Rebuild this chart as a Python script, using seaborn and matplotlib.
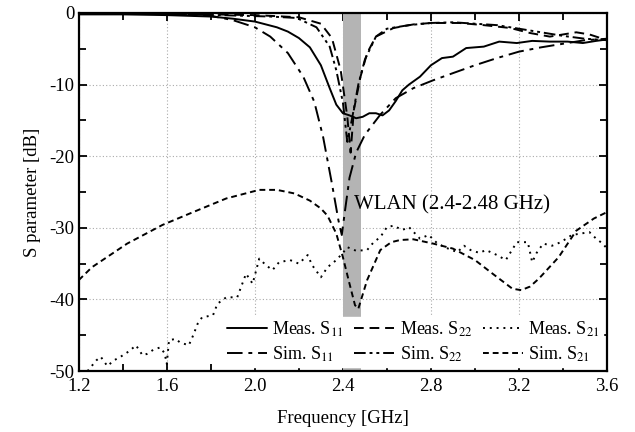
import numpy as np
import pandas as pd
import matplotlib
matplotlib.use("Agg")
import matplotlib.pyplot as plt
import seaborn as sns
from matplotlib.ticker import MultipleLocator

meas_s11_f = [1.2, 1.4, 1.6, 1.8, 1.9, 2.0, 2.1, 2.15, 2.2, 2.25, 2.3, 2.34, 2.37, 2.4, 2.43, 2.46,
              2.49, 2.52, 2.55, 2.58, 2.61, 2.64, 2.67, 2.7, 2.75, 2.8, 2.85, 2.9, 2.96, 3.04, 3.11,
              3.19, 3.26, 3.34, 3.42, 3.49, 3.55, 3.6]
meas_s11_db = [-0.2, -0.2, -0.3, -0.5, -0.8, -1.2, -2.0, -2.6, -3.5, -4.8, -7.3, -10.5, -12.8, -14.0,
               -14.3, -14.7, -14.5, -14.0, -14.0, -14.3, -13.6, -12.3, -10.8, -10.0, -8.9, -7.3, -6.3,
               -6.1, -4.9, -4.7, -4.0, -4.2, -3.9, -4.0, -4.0, -4.2, -3.9, -3.7]

sim_s11_f = [1.2, 1.5, 1.8, 1.9, 2.0, 2.07, 2.15, 2.22, 2.27, 2.31, 2.35, 2.38, 2.395, 2.41, 2.43,
             2.46, 2.5, 2.57, 2.64, 2.72, 2.81, 2.9, 3.0, 3.1, 3.2, 3.3, 3.4, 3.5, 3.6]
sim_s11_db = [0.0, -0.1, -0.4, -1.0, -2.0, -3.3, -5.6, -8.9, -12.4, -17.3, -23.8, -29.0, -31.0, -27.5,
              -23.0, -19.5, -17.0, -14.2, -11.9, -10.5, -9.4, -8.4, -7.3, -6.3, -5.4, -4.8, -4.3,
              -3.8, -3.6]

meas_s22_f = [1.2, 1.5, 1.8, 2.0, 2.2, 2.3, 2.35, 2.39, 2.42, 2.435, 2.45, 2.48, 2.51, 2.55, 2.63,
              2.72, 2.8, 2.93, 3.04, 3.16, 3.25, 3.34, 3.4, 3.46, 3.52, 3.6]
meas_s22_db = [-0.1, -0.1, -0.2, -0.3, -0.6, -1.5, -3.5, -8.0, -14.5, -19.5, -13.5, -8.9, -5.6, -3.3,
               -2.1, -1.6, -1.4, -1.4, -1.7, -2.1, -2.8, -3.3, -3.0, -2.7, -3.0, -3.8]

sim_s22_f = [1.2, 1.5, 1.84, 2.07, 2.19, 2.28, 2.34, 2.37, 2.4, 2.42, 2.44, 2.47, 2.5, 2.55, 2.6,
             2.7, 2.8, 2.9, 3.0, 3.1, 3.2, 3.3, 3.4, 3.5, 3.6]
sim_s22_db = [0.0, -0.1, -0.3, -0.5, -0.7, -2.0, -4.7, -8.0, -12.5, -18.0, -15.0, -10.0, -6.5, -3.3,
              -2.2, -1.7, -1.4, -1.3, -1.5, -1.7, -2.2, -2.7, -3.2, -3.6, -3.8]

meas_s21_f = [1.24, 1.28, 1.30, 1.33, 1.36, 1.39, 1.43, 1.46, 1.49, 1.51, 1.54, 1.57, 1.59, 1.60,
              1.61, 1.64, 1.66, 1.7, 1.72, 1.74, 1.76, 1.81, 1.83, 1.87, 1.92, 1.96, 1.99, 2.02,
              2.05, 2.08, 2.11, 2.16, 2.2, 2.24, 2.26, 2.3, 2.33, 2.37, 2.40, 2.42, 2.46, 2.51,
              2.54, 2.57, 2.60, 2.63, 2.67, 2.70, 2.75, 2.79, 2.83, 2.87, 2.92, 2.95, 2.98, 3.02,
              3.05, 3.1, 3.14, 3.19, 3.24, 3.26, 3.28, 3.31, 3.35, 3.39, 3.44, 3.48, 3.52, 3.55,
              3.58, 3.6]
meas_s21_db = [-50.0, -48.5, -48.0, -49.3, -48.5, -48.0, -47.2, -46.4, -47.8, -47.6, -47.0, -46.7,
               -47.5, -49.0, -45.7, -45.5, -46.0, -46.4, -45.0, -43.4, -42.5, -42.2, -40.6, -39.7,
               -39.7, -36.4, -37.8, -34.3, -35.2, -35.9, -34.8, -34.5, -35.0, -33.8, -35.2, -36.9,
               -35.5, -34.5, -33.5, -32.7, -33.2, -33.1, -32.0, -31.3, -29.9, -29.7, -30.3, -29.9,
               -31.5, -31.0, -32.2, -32.8, -33.4, -32.5, -33.1, -33.5, -33.1, -33.8, -34.5, -32.0,
               -32.0, -34.8, -33.5, -32.2, -32.5, -32.0, -31.0, -30.8, -30.6, -31.5, -32.2, -32.9]

sim_s21_f = [1.2, 1.26, 1.42, 1.58, 1.72, 1.87, 2.02, 2.1, 2.18, 2.25, 2.3, 2.33, 2.37, 2.40, 2.43,
             2.455, 2.47, 2.51, 2.57, 2.62, 2.66, 2.72, 2.81, 2.9, 3.0, 3.08, 3.17, 3.21, 3.25,
             3.29, 3.38, 3.46, 3.54, 3.6]
sim_s21_db = [-37.3, -35.5, -32.2, -29.6, -27.8, -25.9, -24.7, -24.7, -25.2, -26.2, -27.3, -28.3,
              -30.8, -34.1, -37.8, -40.8, -41.3, -37.3, -33.1, -32.0, -31.7, -31.6, -32.2, -32.9,
              -34.5, -36.4, -38.5, -38.7, -38.2, -37.1, -34.1, -30.4, -28.7, -27.8]

wlan_band = (2.4, 2.48)

sns.set_style("ticks")
plt.rcParams["font.family"] = ["Liberation Serif", "DejaVu Serif"]
plt.rcParams["mathtext.fontset"] = "stix"
plt.rcParams["axes.unicode_minus"] = False
for key in ["text.color", "axes.labelcolor", "xtick.color", "ytick.color", "axes.edgecolor"]:
    plt.rcParams[key] = "black"

fig = plt.figure(figsize=(6.35, 4.32), dpi=100)
ax = fig.add_axes([0.124, 0.141, 0.832, 0.829])

ax.axvspan(*wlan_band, color="#b4b4b4", lw=0, zorder=1)

series = [
    ("Meas. S$_{11}$", meas_s11_f, meas_s11_db, "-"),
    ("Sim. S$_{11}$", sim_s11_f, sim_s11_db, (0, (8, 3, 2, 3))),
    ("Meas. S$_{22}$", meas_s22_f, meas_s22_db, (0, (5, 3))),
    ("Sim. S$_{22}$", sim_s22_f, sim_s22_db, (0, (6, 2, 1.5, 2, 1.5, 2))),
    ("Meas. S$_{21}$", meas_s21_f, meas_s21_db, (0, (1, 2.5))),
    ("Sim. S$_{21}$", sim_s21_f, sim_s21_db, (0, (3, 2))),
]
for label, f, db, ls in series:
    sns.lineplot(x=f, y=db, ax=ax, color="black", lw=1.4, linestyle=ls, label=label, zorder=3)

ax.set_xlim(1.2, 3.6)
ax.set_ylim(-50, 0)
ax.xaxis.set_major_locator(MultipleLocator(0.4))
ax.xaxis.set_minor_locator(MultipleLocator(0.2))
ax.yaxis.set_major_locator(MultipleLocator(10))
ax.yaxis.set_minor_locator(MultipleLocator(5))
ax.xaxis.set_major_formatter(matplotlib.ticker.FormatStrFormatter("%.1f"))
ax.tick_params(which="both", direction="in", top=True, right=True, labelsize=13.5, width=1.3)
ax.tick_params(which="major", length=6, pad=3)
ax.tick_params(axis="x", which="major", pad=5)
ax.tick_params(which="minor", length=5)
ax.grid(True, which="major", linestyle=(0, (1, 2)), color="#aaaaaa", lw=0.8, zorder=0)
for s in ax.spines.values():
    s.set_linewidth(1.6)
    s.set_zorder(6)

ax.set_xlabel("Frequency [GHz]", fontsize=13.5, labelpad=11)
ax.set_ylabel("S parameter [dB]", fontsize=13.5, labelpad=6)
ax.text(2.452, -26.8, "WLAN (2.4-2.48 GHz)", fontsize=15, va="center", ha="left", zorder=4)

leg = ax.legend(loc="lower right", ncol=3, fontsize=13, frameon=True, fancybox=False,
                framealpha=1, edgecolor="white", handlelength=2.2, columnspacing=0.6,
                handletextpad=0.3, labelspacing=0.3, borderpad=0.15, borderaxespad=0.25)
leg.set_zorder(5)

fig.savefig("out.png", dpi=100)
